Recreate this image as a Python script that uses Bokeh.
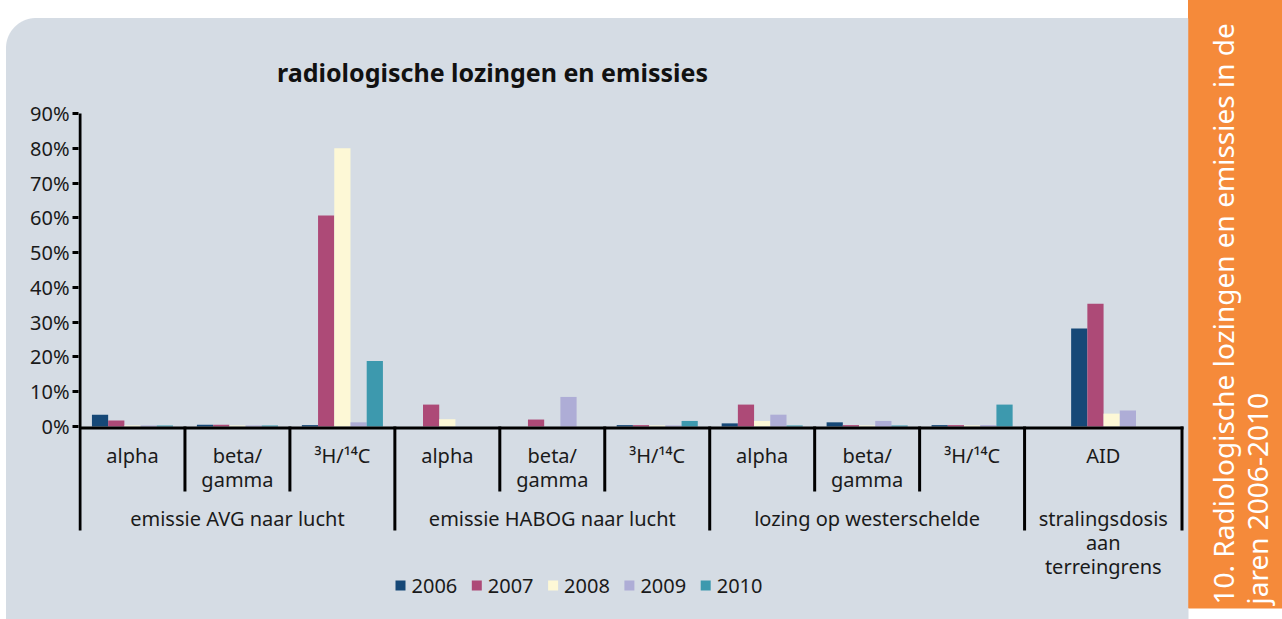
import math
from bokeh.plotting import figure
from bokeh.models import Range1d, FixedTicker, ColumnDataSource, PrintfTickFormatter
from bokeh.core.properties import value
from bokeh.embed import file_html
from bokeh.resources import INLINE

# ---------------- data ----------------
years = ["2006", "2007", "2008", "2009", "2010"]
colors = ["#164877", "#ad4a77", "#fdf8d6", "#aeadd6", "#3d99ae"]
categories = [["alpha"], ["beta/", "gamma"], ["\u00b3H/\u00b9\u2074C"],
              ["alpha"], ["beta/", "gamma"], ["\u00b3H/\u00b9\u2074C"],
              ["alpha"], ["beta/", "gamma"], ["\u00b3H/\u00b9\u2074C"],
              ["AID"]]
groups = [["emissie AVG naar lucht"], ["emissie HABOG naar lucht"],
          ["lozing op westerschelde"], ["stralingsdosis", "aan", "terreingrens"]]
v2006 = [3.4, 0.5, 0.4, 0.0, 0.0, 0.4, 0.9, 1.2, 0.4, 28.2]
v2007 = [1.7, 0.5, 60.7, 6.3, 2.0, 0.4, 6.3, 0.4, 0.4, 35.3]
v2008 = [0.3, 0.3, 80.0, 2.1, 0.0, 0.3, 1.6, 0.3, 0.3, 3.7]
v2009 = [0.3, 0.3, 1.2, 0.0, 8.5, 0.3, 3.4, 1.6, 0.4, 4.6]
v2010 = [0.3, 0.3, 18.8, 0.0, 0.0, 1.6, 0.3, 0.3, 6.3, 0.0]
series = [v2006, v2007, v2008, v2009, v2010]
y_ticks = [0, 10, 20, 30, 40, 50, 60, 70, 80, 90]
title = "radiologische lozingen en emissies"
side_title = ["10. Radiologische lozingen en emissies in de", "jaren 2006-2010"]

# ---------------- layout (pixel geometry of the page) ----------------
W, H = 1282, 619
FRAME_LEFT = 78            # left edge of plotting frame (axis band to the left)
X0_PX, Y0_PX = 79.5, 426   # pixel of data x=0 and y=0%
PX_PER_X = 1102 / 10.5     # pixels per category
PX_PER_Y = 313 / 90        # pixels per percent
PANEL = "#d5dce4"
ORANGE = "#f58a3a"


def dx(px):
    return (px - X0_PX) / PX_PER_X


def dy(py):
    return (Y0_PX - py) / PX_PER_Y


bounds = [0, 1, 2, 3, 4, 5, 6, 7, 8, 9, 10.5]
cat_centers = [(bounds[i] + bounds[i + 1]) / 2 for i in range(10)]
bar_centers = [i + 0.5 for i in range(9)] + [9.83]
group_bounds = [0, 3, 6, 9, 10.5]
bar_w = 0.1545

FONT = "Noto Sans"
TXT = "#1a1a1a"

css_bg = (
    f"radial-gradient(circle at 30px 30px, {PANEL} 29.5px, rgba(213,220,228,0) 30.5px) 6px 18px / 60px 60px no-repeat, "
    f"linear-gradient({PANEL}, {PANEL}) 36px 18px / 1152px 700px no-repeat, "
    f"linear-gradient({PANEL}, {PANEL}) 6px 48px / 1182px 700px no-repeat, "
    f"linear-gradient({ORANGE}, {ORANGE}) 1188px 0px / 200px 608px no-repeat, white"
)

p = figure(width=W, height=H, output_backend="svg", toolbar_location=None,
           x_range=Range1d(dx(FRAME_LEFT), dx(W)), y_range=Range1d(dy(H), dy(0)),
           x_axis_type=None, min_border=0, min_border_left=FRAME_LEFT,
           border_fill_color=None, background_fill_color=None, outline_line_color=None,
           styles={"background": css_bg})
p.grid.visible = False

# panel and side bar inside the frame
p.quad(left=[dx(FRAME_LEFT)], right=[dx(1188)], top=[dy(18)], bottom=[dy(H + 10)],
       fill_color=PANEL, line_color=None)
p.quad(left=[dx(1188)], right=[dx(W + 10)], top=[dy(-10)], bottom=[dy(608)],
       fill_color=ORANGE, line_color=None)

# y axis (ticks + labels from bokeh, line drawn below to continue as separator)
yax = p.yaxis[0]
yax.bounds = (0, 90)
yax.ticker = FixedTicker(ticks=y_ticks)
yax.formatter = PrintfTickFormatter(format="%d%%")
yax.axis_line_color = None
yax.major_tick_line_width = 3
yax.major_tick_line_color = "black"
yax.major_tick_out = 6
yax.major_tick_in = 0
yax.minor_tick_line_color = None
yax.major_label_standoff = 3
yax.major_label_text_font = FONT
yax.major_label_text_font_size = "20px"
yax.major_label_text_color = TXT

# bars
for j, (yr, col, vals) in enumerate(zip(years, colors, series)):
    src = ColumnDataSource(dict(x=[c + (j - 2) * bar_w for c in bar_centers], top=vals))
    p.vbar(x="x", top="top", bottom=0, width=bar_w, source=src,
           fill_color=col, line_color=None)

# vertical axis line
p.quad(left=[dx(FRAME_LEFT)], right=[dx(FRAME_LEFT + 3)], top=[90], bottom=[dy(530)],
       fill_color="black", line_color=None)
# baseline
p.quad(left=[0], right=[bounds[-1] + 1.5 / PX_PER_X], top=[0], bottom=[dy(Y0_PX + 3)],
       fill_color="black", line_color=None)
# separators
short = [b for b in bounds if b not in group_bounds]
p.segment(x0=short, x1=short, y0=[0] * len(short), y1=[dy(491)] * len(short),
          line_width=3, line_color="black")
longb = group_bounds[1:]
p.segment(x0=longb, x1=longb, y0=[0] * len(longb), y1=[dy(530)] * len(longb),
          line_width=3, line_color="black")

# category and group labels
lx, ly, lt = [], [], []
for c, lines in zip(cat_centers, categories):
    for k, t in enumerate(lines):
        lx.append(c); ly.append(dy(455 + 23.5 * k)); lt.append(t)
for i, lines in enumerate(groups):
    c = (group_bounds[i] + group_bounds[i + 1]) / 2
    for k, t in enumerate(lines):
        lx.append(c); ly.append(dy(518 + 24 * k)); lt.append(t)
p.text(x=lx, y=ly, text=lt, text_align="center", text_baseline="middle",
       text_font=value(FONT), text_font_size=value("20px"), text_color=TXT)

# title
p.text(x=[dx(492)], y=[dy(71)], text=[title], text_align="center", text_baseline="middle",
       text_font=value(FONT), text_font_style="bold", text_font_size=value("25px"),
       text_color="#111111")

# legend
leg_x = [dx(400 + 76.3 * j) for j in range(5)]
p.scatter(x=leg_x, y=[dy(585)] * 5, marker="square", size=10, fill_color=colors, line_color=None)
p.text(x=[dx(411 + 76.3 * j) for j in range(5)], y=[dy(585)] * 5, text=years,
       text_align="left", text_baseline="middle", text_font=value(FONT),
       text_font_size=value("20px"), text_color=TXT)

# side bar text
p.text(x=[dx(1222), dx(1256)], y=[dy(604), dy(604)], text=side_title, angle=math.pi / 2,
       text_align="left", text_baseline="middle", text_font=value(FONT),
       text_font_size=value("28px"), text_color="white")

open("out.html", "w").write(file_html(p, INLINE))
